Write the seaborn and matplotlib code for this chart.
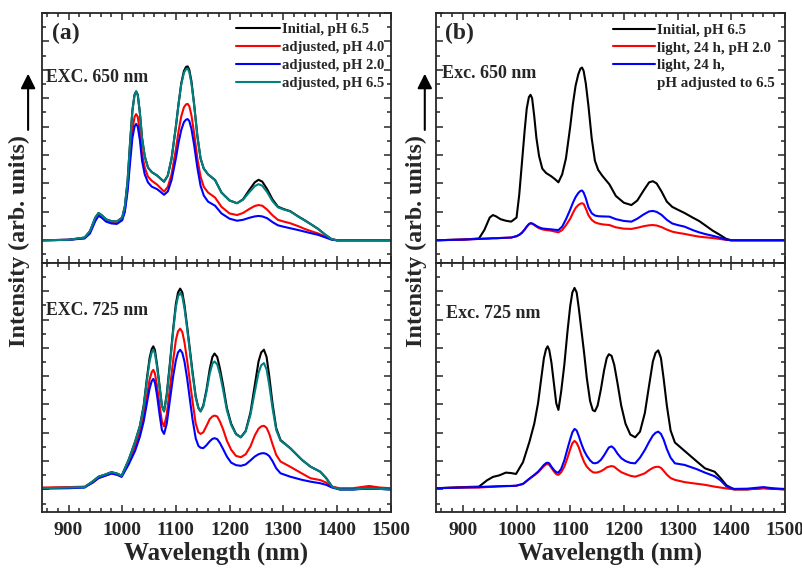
import numpy as np
import pandas as pd
import seaborn as sns
import matplotlib.pyplot as plt
from matplotlib.lines import Line2D
from matplotlib.ticker import MultipleLocator

# ---- data (intensity in arbitrary units) ----
# EXC. 650 nm panels (a) and (b) share one wavelength grid
wl_top = [850, 900, 930, 940, 950, 956, 962, 970, 980, 990,
          1000, 1005, 1010, 1015, 1019, 1023, 1026, 1029, 1033, 1037,
          1042, 1048, 1055, 1065, 1072, 1078, 1085, 1092, 1100, 1105,
          1110, 1115, 1119, 1122, 1125, 1129, 1134, 1140, 1146, 1152,
          1160, 1173, 1185, 1200, 1214, 1225, 1237, 1247, 1254, 1261,
          1270, 1280, 1290, 1300, 1313, 1328, 1340, 1352, 1365, 1378,
          1390, 1400, 1450, 1500]
a_top_initial = [0.0, 0.002, 0.012, 0.04, 0.10, 0.12, 0.11, 0.092, 0.084, 0.082,
                 0.10, 0.15, 0.26, 0.44, 0.57, 0.64, 0.655, 0.64, 0.56, 0.45,
                 0.37, 0.32, 0.30, 0.285, 0.27, 0.258, 0.285, 0.36, 0.50, 0.60,
                 0.69, 0.745, 0.763, 0.765, 0.75, 0.70, 0.60, 0.46, 0.36, 0.315,
                 0.29, 0.265, 0.21, 0.175, 0.163, 0.18, 0.222, 0.255, 0.266, 0.258,
                 0.225, 0.18, 0.148, 0.138, 0.128, 0.105, 0.088, 0.07, 0.05, 0.025,
                 0.005, 0.0, 0.0, 0.0]
a_top_ph40 = [0.0, 0.002, 0.01, 0.035, 0.09, 0.112, 0.103, 0.086, 0.079, 0.077,
              0.093, 0.135, 0.23, 0.38, 0.485, 0.543, 0.555, 0.543, 0.475, 0.38,
              0.32, 0.28, 0.262, 0.245, 0.228, 0.214, 0.235, 0.29, 0.40, 0.48,
              0.545, 0.585, 0.598, 0.60, 0.59, 0.55, 0.47, 0.36, 0.28, 0.235,
              0.21, 0.188, 0.147, 0.118, 0.111, 0.12, 0.138, 0.151, 0.155, 0.152,
              0.135, 0.11, 0.09, 0.083, 0.075, 0.062, 0.05, 0.04, 0.03, 0.016,
              0.004, 0.0, 0.0, 0.0]
a_top_ph20 = [0.0, 0.002, 0.008, 0.03, 0.085, 0.108, 0.099, 0.082, 0.074, 0.072,
              0.088, 0.125, 0.215, 0.35, 0.45, 0.50, 0.512, 0.50, 0.44, 0.35,
              0.29, 0.255, 0.236, 0.225, 0.212, 0.200, 0.215, 0.265, 0.36, 0.43,
              0.485, 0.52, 0.531, 0.533, 0.525, 0.49, 0.42, 0.32, 0.24, 0.197,
              0.17, 0.152, 0.118, 0.095, 0.086, 0.09, 0.099, 0.105, 0.107, 0.105,
              0.097, 0.08, 0.066, 0.06, 0.053, 0.045, 0.038, 0.031, 0.024, 0.013,
              0.003, 0.0, 0.0, 0.0]
a_top_ph65 = [0.0, 0.002, 0.012, 0.04, 0.10, 0.12, 0.11, 0.092, 0.084, 0.082,
              0.10, 0.15, 0.26, 0.44, 0.57, 0.64, 0.655, 0.64, 0.56, 0.45,
              0.37, 0.32, 0.30, 0.285, 0.27, 0.258, 0.285, 0.36, 0.50, 0.60,
              0.685, 0.737, 0.753, 0.755, 0.74, 0.69, 0.595, 0.46, 0.36, 0.315,
              0.29, 0.265, 0.21, 0.175, 0.163, 0.178, 0.212, 0.238, 0.247, 0.24,
              0.212, 0.172, 0.145, 0.136, 0.127, 0.104, 0.087, 0.07, 0.05, 0.025,
              0.005, 0.0, 0.0, 0.0]
b_top_initial = [0.0, 0.003, 0.008, 0.045, 0.10, 0.111, 0.105, 0.093, 0.086, 0.082,
                 0.10, 0.20, 0.34, 0.48, 0.58, 0.63, 0.64, 0.625, 0.545, 0.45,
                 0.37, 0.315, 0.296, 0.281, 0.268, 0.255, 0.29, 0.36, 0.50, 0.60,
                 0.68, 0.73, 0.755, 0.76, 0.745, 0.69, 0.59, 0.449, 0.35, 0.31,
                 0.283, 0.246, 0.195, 0.165, 0.155, 0.175, 0.22, 0.255, 0.26, 0.25,
                 0.215, 0.17, 0.147, 0.135, 0.12, 0.1, 0.085, 0.065, 0.043, 0.025,
                 0.007, 0.0, 0.0, 0.0]
b_top_light20 = [0.0, 0.003, 0.006, 0.007, 0.008, 0.009, 0.009, 0.01, 0.011, 0.012,
                 0.018, 0.024, 0.033, 0.047, 0.06, 0.071, 0.075, 0.073, 0.067, 0.06,
                 0.053, 0.048, 0.045, 0.042, 0.038, 0.035, 0.045, 0.066, 0.095, 0.12,
                 0.142, 0.155, 0.161, 0.163, 0.16, 0.14, 0.11, 0.09, 0.079, 0.074,
                 0.07, 0.067, 0.057, 0.051, 0.05, 0.055, 0.062, 0.066, 0.067, 0.065,
                 0.058, 0.047, 0.038, 0.033, 0.028, 0.021, 0.016, 0.013, 0.01, 0.006,
                 0.002, 0.0, 0.0, 0.0]
b_top_light65 = [0.0, 0.003, 0.006, 0.007, 0.008, 0.009, 0.009, 0.01, 0.011, 0.012,
                 0.018, 0.024, 0.033, 0.047, 0.06, 0.071, 0.075, 0.074, 0.069, 0.063,
                 0.057, 0.052, 0.05, 0.048, 0.046, 0.045, 0.06, 0.092, 0.135, 0.165,
                 0.19, 0.208, 0.217, 0.219, 0.21, 0.185, 0.145, 0.119, 0.109, 0.106,
                 0.105, 0.104, 0.093, 0.085, 0.082, 0.095, 0.114, 0.127, 0.129, 0.125,
                 0.112, 0.09, 0.074, 0.067, 0.06, 0.045, 0.035, 0.027, 0.02, 0.012,
                 0.003, 0.0, 0.0, 0.0]

# EXC. 725 nm panels (a) and (b) share one wavelength grid
wl_bot = [850, 900, 930, 945, 956, 968, 980, 990, 999, 1012,
          1024, 1033, 1040, 1046, 1051, 1055, 1058, 1061, 1065, 1070,
          1074, 1078, 1083, 1089, 1095, 1100, 1104, 1108, 1112, 1116,
          1121, 1126, 1131, 1137, 1142, 1146, 1151, 1157, 1163, 1168,
          1172, 1177, 1182, 1188, 1195, 1203, 1212, 1221, 1230, 1239,
          1247, 1254, 1259, 1264, 1269, 1274, 1280, 1287, 1295, 1313,
          1335, 1351, 1369, 1380, 1391, 1405, 1430, 1460, 1480, 1500]
a_bot_initial = [0.005, 0.008, 0.01, 0.035, 0.056, 0.065, 0.076, 0.07, 0.06, 0.13,
                 0.21, 0.28, 0.37, 0.49, 0.58, 0.62, 0.632, 0.615, 0.55, 0.45,
                 0.37, 0.345, 0.42, 0.56, 0.71, 0.82, 0.87, 0.887, 0.87, 0.815,
                 0.72, 0.62, 0.52, 0.41, 0.36, 0.345, 0.37, 0.44, 0.53, 0.585,
                 0.60, 0.585, 0.535, 0.46, 0.36, 0.29, 0.245, 0.23, 0.258, 0.34,
                 0.46, 0.565, 0.605, 0.617, 0.585, 0.50, 0.38, 0.27, 0.218, 0.182,
                 0.13, 0.1, 0.078, 0.05, 0.012, 0.0, 0.0, 0.005, 0.002, 0.0]
a_bot_ph40 = [0.008, 0.01, 0.012, 0.03, 0.05, 0.06, 0.07, 0.065, 0.058, 0.12,
              0.19, 0.25, 0.32, 0.41, 0.485, 0.518, 0.528, 0.512, 0.455, 0.365,
              0.3, 0.278, 0.33, 0.45, 0.57, 0.66, 0.698, 0.71, 0.695, 0.65,
              0.57, 0.48, 0.39, 0.29, 0.252, 0.245, 0.252, 0.28, 0.31, 0.322,
              0.326, 0.322, 0.30, 0.265, 0.215, 0.175, 0.148, 0.142, 0.155, 0.19,
              0.238, 0.268, 0.278, 0.281, 0.272, 0.245, 0.2, 0.152, 0.123, 0.1,
              0.07, 0.049, 0.041, 0.03, 0.012, 0.005, 0.005, 0.015, 0.008, 0.005]
a_bot_ph20 = [0.003, 0.005, 0.008, 0.03, 0.05, 0.06, 0.07, 0.065, 0.055, 0.11,
              0.17, 0.233, 0.3, 0.38, 0.445, 0.478, 0.488, 0.472, 0.415, 0.325,
              0.262, 0.245, 0.29, 0.396, 0.5, 0.57, 0.605, 0.617, 0.603, 0.565,
              0.49, 0.4, 0.31, 0.225, 0.192, 0.184, 0.182, 0.195, 0.212, 0.223,
              0.226, 0.222, 0.205, 0.178, 0.145, 0.118, 0.107, 0.104, 0.11, 0.128,
              0.145, 0.155, 0.159, 0.16, 0.156, 0.147, 0.125, 0.093, 0.071, 0.056,
              0.042, 0.034, 0.027, 0.02, 0.008, 0.0, 0.0, 0.003, 0.002, 0.0]
a_bot_ph65 = [0.005, 0.008, 0.01, 0.035, 0.056, 0.065, 0.076, 0.07, 0.06, 0.13,
              0.21, 0.28, 0.365, 0.48, 0.565, 0.605, 0.617, 0.6, 0.54, 0.445,
              0.368, 0.344, 0.415, 0.55, 0.70, 0.805, 0.852, 0.868, 0.852, 0.80,
              0.71, 0.61, 0.51, 0.405, 0.358, 0.344, 0.365, 0.43, 0.51, 0.555,
              0.565, 0.552, 0.51, 0.44, 0.35, 0.285, 0.243, 0.23, 0.255, 0.33,
              0.43, 0.515, 0.548, 0.558, 0.53, 0.46, 0.36, 0.262, 0.215, 0.182,
              0.13, 0.1, 0.078, 0.05, 0.012, 0.0, 0.0, 0.005, 0.002, 0.0]
b_bot_initial = [0.005, 0.01, 0.012, 0.04, 0.055, 0.062, 0.074, 0.072, 0.068, 0.12,
                 0.21, 0.29, 0.38, 0.49, 0.58, 0.62, 0.632, 0.615, 0.56, 0.46,
                 0.38, 0.351, 0.43, 0.55, 0.70, 0.81, 0.87, 0.89, 0.87, 0.80,
                 0.70, 0.60, 0.49, 0.39, 0.35, 0.345, 0.37, 0.44, 0.525, 0.58,
                 0.597, 0.59, 0.55, 0.47, 0.37, 0.29, 0.242, 0.23, 0.255, 0.337,
                 0.46, 0.565, 0.603, 0.614, 0.58, 0.49, 0.37, 0.26, 0.207, 0.17,
                 0.125, 0.093, 0.078, 0.05, 0.018, 0.0, 0.0, 0.005, 0.002, 0.0]
b_bot_light20 = [0.005, 0.008, 0.008, 0.01, 0.011, 0.013, 0.014, 0.015, 0.016, 0.024,
                 0.047, 0.062, 0.075, 0.09, 0.103, 0.11, 0.112, 0.108, 0.095, 0.078,
                 0.067, 0.064, 0.075, 0.1, 0.14, 0.178, 0.204, 0.214, 0.205, 0.185,
                 0.15, 0.12, 0.1, 0.085, 0.076, 0.074, 0.075, 0.08, 0.088, 0.097,
                 0.1, 0.103, 0.1, 0.088, 0.076, 0.068, 0.06, 0.056, 0.063, 0.071,
                 0.085, 0.095, 0.099, 0.1, 0.095, 0.082, 0.065, 0.05, 0.042, 0.032,
                 0.025, 0.02, 0.012, 0.008, 0.004, 0.0, 0.0, 0.006, 0.003, 0.0]
b_bot_light65 = [0.005, 0.008, 0.01, 0.012, 0.013, 0.014, 0.015, 0.015, 0.016, 0.024,
                 0.047, 0.064, 0.078, 0.094, 0.108, 0.116, 0.118, 0.115, 0.1, 0.085,
                 0.076, 0.074, 0.09, 0.128, 0.18, 0.222, 0.252, 0.267, 0.26, 0.235,
                 0.2, 0.17, 0.148, 0.128, 0.117, 0.115, 0.118, 0.13, 0.15, 0.17,
                 0.185, 0.19, 0.18, 0.158, 0.138, 0.125, 0.117, 0.115, 0.14, 0.174,
                 0.21, 0.238, 0.25, 0.255, 0.245, 0.22, 0.178, 0.14, 0.115, 0.108,
                 0.09, 0.074, 0.058, 0.04, 0.013, 0.002, 0.003, 0.01, 0.004, 0.002]

labels_a = ['Initial, pH 6.5', 'adjusted, pH 4.0', 'adjusted, pH 2.0', 'adjusted, pH 6.5']
labels_b = ['Initial, pH 6.5', 'light, 24 h, pH 2.0', 'light, 24 h,', 'pH adjusted to 6.5']
colors_a = ['black', '#ff0000', '#0000ff', '#008080']
colors_b = ['black', '#ff0000', '#0000ff']

sns.set_style('ticks')
plt.rcParams['font.family'] = ['Liberation Serif', 'DejaVu Serif']
plt.rcParams['font.weight'] = 'bold'
plt.rcParams['axes.labelweight'] = 'bold'
plt.rcParams['axes.linewidth'] = 1.3

fig = plt.figure(figsize=(8.03, 5.72), dpi=100)
left_a, left_b, width = 0.0519, 0.543, 0.4345
ax_at = fig.add_axes([left_a, 0.5402, width, 0.4371])
ax_ab = fig.add_axes([left_a, 0.1049, width, 0.4353])
ax_bt = fig.add_axes([left_b, 0.5402, width, 0.4371])
ax_bb = fig.add_axes([left_b, 0.1049, width, 0.4353])


def draw(ax, wl, series, colors):
    for vals, c in zip(series, colors):
        sns.lineplot(x=wl, y=vals, color=c, lw=1.5, ax=ax, estimator=None, sort=False)


draw(ax_at, wl_top, [a_top_initial, a_top_ph40, a_top_ph20, a_top_ph65], colors_a)
draw(ax_ab, wl_bot, [a_bot_initial, a_bot_ph40, a_bot_ph20, a_bot_ph65], colors_a)
draw(ax_bt, wl_top, [b_top_initial, b_top_light20, b_top_light65], colors_b)
draw(ax_bb, wl_bot, [b_bot_initial, b_bot_light20, b_bot_light65], colors_b)

for ax in [ax_at, ax_ab, ax_bt, ax_bb]:
    ax.set_xlim(850, 1500)
    ax.set_ylim(-0.1, 1.0)
    ax.xaxis.set_major_locator(MultipleLocator(100))
    ax.xaxis.set_minor_locator(MultipleLocator(20))
    ax.yaxis.set_major_locator(MultipleLocator(0.125))
    ax.yaxis.set_minor_locator(MultipleLocator(0.0625))
    ax.tick_params(which='both', direction='in', top=True, right=True, width=1.1)
    ax.tick_params(which='major', length=5)
    ax.tick_params(which='minor', length=3)
    ax.tick_params(axis='x', labelsize=14, pad=7)
    ax.set_yticklabels([])
    ax.set_ylabel('')
    ax.set_xlabel('')
    for l in ax.get_xticklabels():
        l.set_fontweight('bold')

for ax in [ax_at, ax_bt]:
    ax.set_xticklabels([])

for ax in [ax_ab, ax_bb]:
    ax.set_xlabel('Wavelength (nm)', fontsize=18, fontweight='bold', labelpad=2)

# legends
handles_a = [Line2D([], [], color=c, lw=1.5) for c in colors_a]
ax_at.legend(handles_a, labels_a, loc='upper right', bbox_to_anchor=(1.01, 1.0), frameon=False,
             prop={'size': 10.5, 'weight': 'bold'}, handlelength=3.0, handletextpad=0.1,
             labelspacing=0.32, borderaxespad=0.3)
handles_b = [Line2D([], [], color=c, lw=1.5) for c in colors_b] + [Line2D([], [], color='none')]
ax_bt.legend(handles_b, labels_b, loc='upper right', bbox_to_anchor=(1.0, 1.0), frameon=False,
             prop={'size': 10.8, 'weight': 'bold'}, handlelength=2.8, handletextpad=0.1,
             labelspacing=0.28, borderaxespad=0.3)

# panel annotations
ax_at.text(0.03, 0.92, '(a)', transform=ax_at.transAxes, fontsize=17, fontweight='bold', va='center')
ax_bt.text(0.025, 0.92, '(b)', transform=ax_bt.transAxes, fontsize=17, fontweight='bold', va='center')
ax_at.text(0.013, 0.742, 'EXC. 650 nm', transform=ax_at.transAxes, fontsize=12.8, fontweight='bold', va='center')
ax_ab.text(0.011, 0.808, 'EXC. 725 nm', transform=ax_ab.transAxes, fontsize=12.8, fontweight='bold', va='center')
ax_bt.text(0.018, 0.757, 'Exc. 650 nm', transform=ax_bt.transAxes, fontsize=13, fontweight='bold', va='center')
ax_bb.text(0.03, 0.797, 'Exc. 725 nm', transform=ax_bb.transAxes, fontsize=13, fontweight='bold', va='center')

# y labels with arrow
for xc, xa in [(0.024, 0.035), (0.518, 0.529)]:
    fig.text(xc, 0.579, 'Intensity (arb. units)', rotation=90, ha='center', va='center',
             fontsize=17.3, fontweight='bold')
    ax_at.annotate('', xy=(xa, 0.876), xytext=(xa, 0.768), xycoords='figure fraction',
                   textcoords='figure fraction',
                   arrowprops=dict(arrowstyle='-|>', lw=1.5, color='black', mutation_scale=22))

plt.savefig('out.png', dpi=100)
